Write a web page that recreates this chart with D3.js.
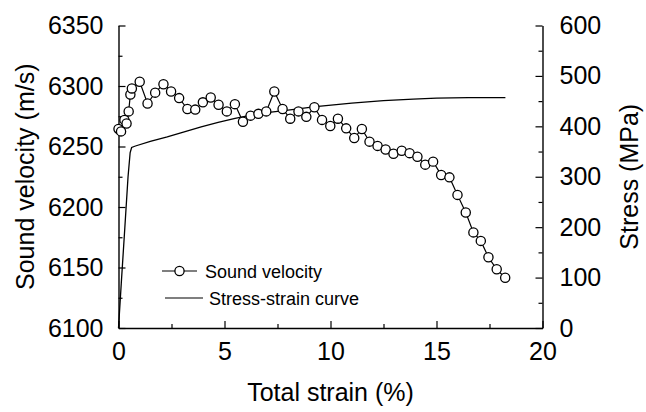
<!DOCTYPE html>
<html>
<head>
<meta charset="utf-8">
<script src="https://cdn.jsdelivr.net/npm/d3@7"></script>
<style>
  body { margin: 0; background: #fff; }
  svg text { font-family: "Liberation Sans", Arial, sans-serif; fill: #000; }
</style>
</head>
<body>
<svg width="646" height="412"></svg>
<script>
// sound velocity measured along the test
const velStrain = [0.0, 0.12, 0.28, 0.38, 0.48, 0.56, 0.63, 1.0, 1.37, 1.73, 2.12, 2.48, 2.86,
  3.25, 3.62, 3.98, 4.35, 4.72, 5.11, 5.49, 5.87, 6.23, 6.6, 6.97, 7.35, 7.74, 8.1, 8.49,
  8.86, 9.24, 9.6, 9.99, 10.35, 10.74, 11.12, 11.48, 11.84, 12.22, 12.6, 12.97, 13.36,
  13.73, 14.1, 14.47, 14.84, 15.22, 15.61, 15.99, 16.38, 16.74, 17.09, 17.45, 17.84, 18.24];
const velocity = [6264.5, 6262.5, 6272, 6269, 6279, 6293, 6298, 6303.5, 6285.5, 6294.5, 6301.5,
  6295.5, 6290, 6281, 6280.5, 6286.5, 6290.5, 6284.5, 6279, 6285, 6270.5, 6275.5, 6277, 6279,
  6295.5, 6281, 6273, 6279, 6274.5, 6282.5, 6272, 6267, 6273, 6265, 6257, 6264.5, 6254, 6250.5,
  6247.5, 6244, 6246.5, 6244.5, 6241.5, 6235, 6237.5, 6226.5, 6224.5, 6210, 6195.5, 6179,
  6172, 6158.5, 6148.5, 6141.5];

// stress-strain curve
const curveStrain = [0, 0.13, 0.3, 0.45, 0.55, 0.62, 0.8, 1.5, 2.3, 3.1, 3.9, 4.7, 5.5, 6.6,
  8.0, 9.3, 11.0, 12.5, 13.9, 15.0, 16.5, 18.25];
const stress = [0, 88, 200, 300, 348, 358, 361, 370, 379, 389, 399, 408, 416, 425, 432, 439,
  446, 451, 454, 456, 457, 457];

const xTicks = [0, 5, 10, 15, 20];
const velTicks = [6100, 6150, 6200, 6250, 6300, 6350];
const stressTicks = [0, 100, 200, 300, 400, 500, 600];

const mLeft = 118.5, mTop = 25.5, w = 424, h = 302.5;
const svg = d3.select("svg");
const g = svg.append("g").attr("transform", `translate(${mLeft},${mTop})`);

const x = d3.scaleLinear().domain([0, 20]).range([0, w]);
const yV = d3.scaleLinear().domain([6100, 6350]).range([h, 0]);
const yS = d3.scaleLinear().domain([0, 600]).range([h, 0]);

// inward ticks, minor ones shorter
const minorX = d3.range(2.5, 20, 5);
const minorV = d3.range(6125, 6350, 50);
const minorS = d3.range(50, 600, 100);

const styleAxis = (sel) => {
  sel.select(".domain").attr("stroke", "#000").attr("stroke-width", 1.4);
  sel.selectAll(".tick line").attr("stroke", "#000").attr("stroke-width", 1.2);
  sel.selectAll("text").attr("font-size", 25).attr("fill", "#000")
    .style("font-family", "Liberation Sans, Arial, sans-serif");
};
const styleMinor = (sel) => {
  sel.select(".domain").remove();
  sel.selectAll("line").attr("stroke", "#000").attr("stroke-width", 1.2);
};

const gx = g.append("g").attr("transform", `translate(0,${h})`)
  .call(d3.axisBottom(x).tickValues(xTicks).tickSize(-7).tickPadding(14).tickSizeOuter(0));
styleAxis(gx);
g.append("g").attr("transform", `translate(0,${h})`)
  .call(d3.axisBottom(x).tickValues(minorX).tickSize(-4).tickFormat(""))
  .call(styleMinor);

const gl = g.append("g")
  .call(d3.axisLeft(yV).tickValues(velTicks).tickFormat(d3.format("d"))
    .tickSize(-7).tickPadding(15).tickSizeOuter(0));
styleAxis(gl);
g.append("g")
  .call(d3.axisLeft(yV).tickValues(minorV).tickSize(-4).tickFormat(""))
  .call(styleMinor);

const gr = g.append("g").attr("transform", `translate(${w},0)`)
  .call(d3.axisRight(yS).tickValues(stressTicks).tickSize(-7).tickPadding(17).tickSizeOuter(0));
styleAxis(gr);
g.append("g").attr("transform", `translate(${w},0)`)
  .call(d3.axisRight(yS).tickValues(minorS).tickSize(-4).tickFormat(""))
  .call(styleMinor);

// stress-strain curve
const curveLine = d3.line().x((d, i) => x(curveStrain[i])).y(d => yS(d));
g.append("path").datum(stress)
  .attr("d", curveLine)
  .attr("fill", "none").attr("stroke", "#000").attr("stroke-width", 1.3);

// sound velocity
const velLine = d3.line().x((d, i) => x(velStrain[i])).y(d => yV(d));
g.append("path").datum(velocity)
  .attr("d", velLine)
  .attr("fill", "none").attr("stroke", "#000").attr("stroke-width", 1.2);
g.selectAll("circle.pt").data(velocity).join("circle")
  .attr("class", "pt")
  .attr("cx", (d, i) => x(velStrain[i])).attr("cy", d => yV(d))
  .attr("r", 4.6).attr("fill", "#fff").attr("stroke", "#000").attr("stroke-width", 1.3);

// legend
const lg = svg.append("g");
lg.append("line").attr("x1", 162).attr("x2", 197).attr("y1", 271).attr("y2", 271)
  .attr("stroke", "#000").attr("stroke-width", 1.2);
lg.append("circle").attr("cx", 179.5).attr("cy", 271).attr("r", 4.6)
  .attr("fill", "#fff").attr("stroke", "#000").attr("stroke-width", 1.3);
lg.append("text").attr("x", 205).attr("y", 277.5).attr("font-size", 18).text("Sound velocity");
lg.append("line").attr("x1", 165).attr("x2", 203).attr("y1", 298).attr("y2", 298)
  .attr("stroke", "#000").attr("stroke-width", 1.2);
lg.append("text").attr("x", 209).attr("y", 304.5).attr("font-size", 18).text("Stress-strain curve");

// axis titles
svg.append("text").attr("x", mLeft + w / 2).attr("y", 401).attr("text-anchor", "middle")
  .attr("font-size", 25).text("Total strain (%)");
svg.append("text").attr("transform", `translate(34,${mTop + h / 2}) rotate(-90)`)
  .attr("text-anchor", "middle").attr("font-size", 25).text("Sound velocity (m/s)");
svg.append("text").attr("transform", `translate(638,${mTop + h / 2}) rotate(-90)`)
  .attr("text-anchor", "middle").attr("font-size", 25).text("Stress (MPa)");
</script>
</body>
</html>
